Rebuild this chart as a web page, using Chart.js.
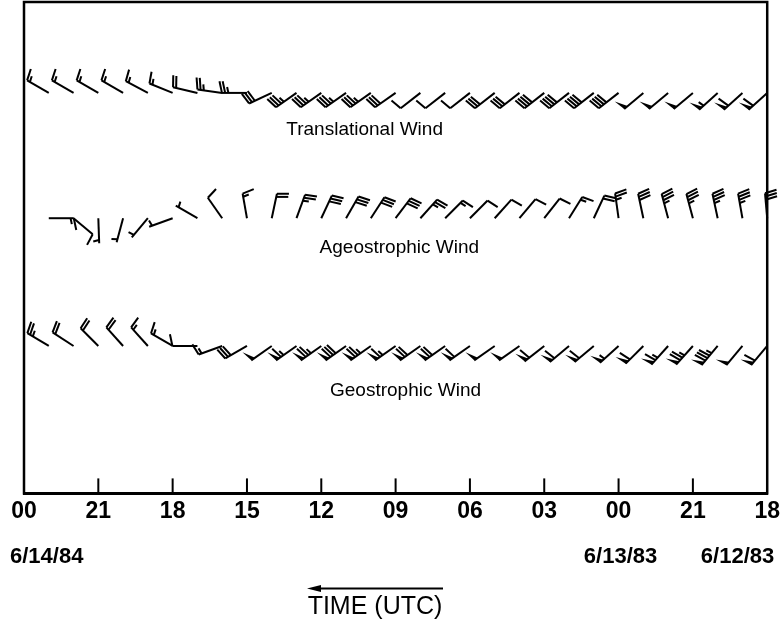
<!DOCTYPE html>
<html>
<head>
<meta charset="utf-8">
<script src="https://cdn.jsdelivr.net/npm/chart.js@4.4.0/dist/chart.umd.min.js"></script>
<style>
  html, body { margin: 0; padding: 0; background: #fff; }
  #wrap { width: 784px; height: 628px; }
</style>
</head>
<body>
<div id="wrap"><canvas id="windChart" width="784" height="628"></canvas></div>
<script>
// hours after 18 UTC 6/12, plotted right (0) to left (30)
const hours = [29, 28, 27, 26, 25, 24, 23, 22, 21, 20, 19, 18, 17, 16, 15,
               14, 13, 12, 11, 10, 9, 8, 7, 6, 5, 4, 3, 2, 1, 0];
// labels for ticks at 0, 3, 6 ... 30 hours
const tickLabels = ['18', '21', '00', '03', '06', '09', '12', '15', '18', '21', '00'];
const dateLabels = ['6/14/84', '6/13/83', '6/12/83'];
const dateHours = [30, 6, 0];
const rowNames = ['Translational Wind', 'Ageostrophic Wind', 'Geostrophic Wind'];
const rowLevels = [81.5, 56, 30];

// direction the wind blows from (deg) and speed (barb units: 5 half, 10 full, 50 flag)
const transDir = [300, 300, 300, 300, 298, 292, 283, 278, 270, 245, 235, 235, 235, 235, 235,
                  232, 232, 232, 232, 232, 232, 232, 232, 232, 230, 230, 230, 228, 228, 228];
const transSpd = [15, 15, 15, 15, 15, 15, 20, 25, 25, 30, 35, 35, 35, 35, 30,
                  10, 10, 10, 30, 30, 40, 40, 40, 40, 50, 50, 50, 55, 60, 60];

const ageoDir = [90, 130, 178, 195, 220, 250, 300, 325, 350, 12, 20, 25, 30, 33, 37,
                 42, 45, 45, 42, 40, 38, 32, 25, 352, 348, 345, 345, 348, 350, 355];
const ageoSpd = [15, 10, 5, 5, 5, 5, 5, 10, 15, 20, 25, 30, 30, 30, 30,
                 25, 15, 10, 10, 10, 10, 15, 20, 25, 30, 35, 35, 35, 35, 30];

const geoDir = [301, 303, 315, 318, 318, 300, 270, 250, 240, 235, 235, 235, 235, 235, 235,
                235, 235, 235, 235, 235, 232, 230, 230, 228, 225, 222, 222, 220, 220, 220];
const geoSpd = [25, 20, 20, 20, 15, 15, 10, 15, 30, 50, 65, 75, 80, 75, 65,
                70, 70, 60, 50, 50, 60, 60, 60, 55, 60, 65, 75, 85, 50, 60];

function drawBarb(ctx, x, y, dir, spd) {
  const L = 25, FL = 12, HL = 6, GAP = 3.2, PB = 4.5;
  const r = dir * Math.PI / 180;
  const ux = Math.sin(r), uy = -Math.cos(r);
  const rx = Math.cos(r), ry = Math.sin(r);
  const a = 12 * Math.PI / 180;
  const fx = rx * Math.cos(a) + ux * Math.sin(a);
  const fy = ry * Math.cos(a) + uy * Math.sin(a);
  const tx = x + ux * L, ty = y + uy * L;
  ctx.beginPath();
  ctx.moveTo(x, y);
  ctx.lineTo(tx, ty);
  ctx.stroke();
  let s = Math.round(spd / 5) * 5;
  const flags = Math.floor(s / 50); s -= flags * 50;
  const full = Math.floor(s / 10); s -= full * 10;
  const half = s >= 5;
  let pos = 0;
  for (let i = 0; i < flags; i++) {
    const bx = tx - ux * pos, by = ty - uy * pos;
    ctx.beginPath();
    ctx.moveTo(bx, by);
    ctx.lineTo(bx + fx * FL, by + fy * FL);
    ctx.lineTo(bx - ux * PB, by - uy * PB);
    ctx.closePath();
    ctx.fill();
    pos += PB + 1.5;
  }
  for (let i = 0; i < full; i++) {
    const bx = tx - ux * pos, by = ty - uy * pos;
    ctx.beginPath();
    ctx.moveTo(bx, by);
    ctx.lineTo(bx + fx * FL, by + fy * FL);
    ctx.stroke();
    pos += GAP;
  }
  if (half) {
    if (flags + full === 0) pos += GAP;
    const bx = tx - ux * pos, by = ty - uy * pos;
    ctx.beginPath();
    ctx.moveTo(bx, by);
    ctx.lineTo(bx + fx * HL, by + fy * HL);
    ctx.stroke();
  }
}

const barbPlugin = {
  id: 'barbs',
  afterDatasetsDraw(chart) {
    const ctx = chart.ctx;
    const { left, right, top, bottom } = chart.chartArea;
    const xs = chart.scales.x, ys = chart.scales.y;
    ctx.save();
    ctx.strokeStyle = '#000';
    ctx.fillStyle = '#000';
    ctx.lineWidth = 2;
    chart.data.datasets.forEach((ds, di) => {
      chart.getDatasetMeta(di).data.forEach((pt, i) => {
        drawBarb(ctx, pt.x, pt.y, ds.dirs[i], ds.spds[i]);
      });
    });

    // frame and inward ticks
    ctx.lineWidth = 2.5;
    ctx.strokeRect(left, top, right - left, bottom - top);
    ctx.lineWidth = 2;
    xs.ticks.forEach(t => {
      if (t.value <= xs.min || t.value >= xs.max) return;
      const px = xs.getPixelForValue(t.value);
      ctx.beginPath();
      ctx.moveTo(px, bottom);
      ctx.lineTo(px, bottom - 15);
      ctx.stroke();
    });

    // row labels
    ctx.font = '19px "Liberation Sans", Arial, sans-serif';
    ctx.textAlign = 'center';
    ctx.textBaseline = 'middle';
    const labelHours = [16.25, 14.85, 14.6];
    const labelDrop = [37, 30, 45];
    rowNames.forEach((name, k) => {
      ctx.fillText(name, xs.getPixelForValue(labelHours[k]),
                   ys.getPixelForValue(rowLevels[k]) + labelDrop[k]);
    });

    // dates under the hour labels
    ctx.font = 'bold 22px "Liberation Sans", Arial, sans-serif';
    const dateAlign = ['left', 'center', 'right'];
    const dateShift = [-14, 2, 7];
    dateLabels.forEach((d, k) => {
      ctx.textAlign = dateAlign[k];
      ctx.fillText(d, xs.getPixelForValue(dateHours[k]) + dateShift[k], bottom + 64);
    });

    // time arrow and axis title
    const cx = 375, ay = bottom + 95;
    ctx.lineWidth = 2;
    ctx.beginPath();
    ctx.moveTo(cx - 55, ay);
    ctx.lineTo(cx + 68, ay);
    ctx.stroke();
    ctx.beginPath();
    ctx.moveTo(cx - 68, ay);
    ctx.lineTo(cx - 54, ay - 3.5);
    ctx.lineTo(cx - 54, ay + 3.5);
    ctx.closePath();
    ctx.fill();
    ctx.textAlign = 'center';
    ctx.font = '25px "Liberation Sans", Arial, sans-serif';
    ctx.fillText('TIME (UTC)', cx, ay + 19);
    ctx.restore();
  }
};

const rows = [
  { dirs: transDir, spds: transSpd },
  { dirs: ageoDir, spds: ageoSpd },
  { dirs: geoDir, spds: geoSpd },
];

new Chart(document.getElementById('windChart').getContext('2d'), {
  type: 'scatter',
  data: {
    datasets: rows.map((r, k) => ({
      label: rowNames[k],
      data: hours.map(h => ({ x: h, y: rowLevels[k] })),
      dirs: r.dirs,
      spds: r.spds,
      pointRadius: 0,
      showLine: false,
    })),
  },
  options: {
    responsive: false,
    animation: false,
    layout: { padding: { left: 24, right: 15, top: 2, bottom: 99 } },
    plugins: { legend: { display: false }, tooltip: { enabled: false } },
    scales: {
      x: {
        type: 'linear',
        min: 0,
        max: 30,
        reverse: true,
        grid: { display: false, drawTicks: false },
        border: { display: true, color: '#000', width: 3 },
        ticks: {
          stepSize: 3,
          autoSkip: false,
          maxRotation: 0,
          padding: 4,
          color: '#000',
          font: { family: '"Liberation Sans", Arial, sans-serif', size: 23, weight: 'bold' },
          callback: v => tickLabels[Math.round(v / 3)],
        },
      },
      y: { display: false, min: 0, max: 100 },
    },
  },
  plugins: [barbPlugin],
});
</script>
</body>
</html>
